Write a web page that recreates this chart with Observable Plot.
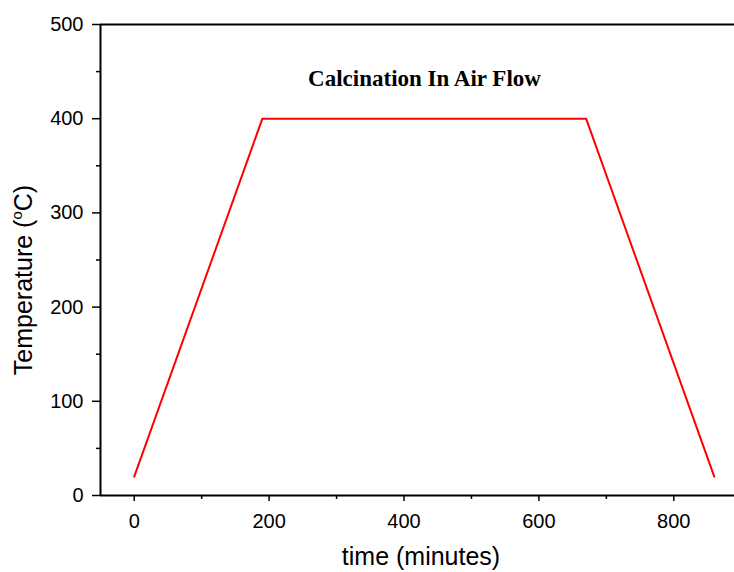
<!DOCTYPE html>
<html>
<head>
<meta charset="utf-8">
<script src="https://cdn.jsdelivr.net/npm/d3@7"></script>
<script src="https://cdn.jsdelivr.net/npm/@observablehq/plot@0.6"></script>
<style>
  body { margin: 0; background: #fff; }
  #chart svg { display: block; }
</style>
</head>
<body>
<div id="chart"></div>
<script>
const times = [0, 190, 670, 860];
const temps = [20, 400, 400, 20];
const xMajorTicks = [0, 200, 400, 600, 800];
const xMinorTicks = [100, 300, 500, 700];
const yMajorTicks = [0, 100, 200, 300, 400, 500];
const yMinorTicks = [50, 150, 250, 350, 450];
const title = "Calcination In Air Flow";
const xLabel = "time (minutes)";

const data = times.map((t, i) => ({time: t, temp: temps[i]}));

const plot = Plot.plot({
  width: 734,
  height: 572,
  marginLeft: 100,
  marginRight: 0,
  marginTop: 24,
  marginBottom: 77,
  style: {fontFamily: "Liberation Sans, Arial, sans-serif", background: "white", color: "black"},
  x: {domain: [-50, 890]},
  y: {domain: [0, 500]},
  marks: [
    Plot.axisX({ticks: xMajorTicks, tickSize: 6, tickPadding: 12, fontSize: 20, label: null, strokeWidth: 1.5}),
    Plot.axisX({ticks: xMinorTicks, tickSize: 4, text: null, label: null, strokeWidth: 1.5}),
    Plot.axisY({ticks: yMajorTicks, tickSize: 8, tickPadding: 9, fontSize: 20, label: null, strokeWidth: 1.5}),
    Plot.axisY({ticks: yMinorTicks, tickSize: 4, text: null, label: null, strokeWidth: 1.5}),
    Plot.ruleX([-50], {strokeWidth: 2}),
    Plot.ruleY([0], {strokeWidth: 2}),
    Plot.ruleY([500], {strokeWidth: 2}),
    Plot.line(data, {x: "time", y: "temp", stroke: "#ff0000", strokeWidth: 2}),
    Plot.text([title], {frameAnchor: "top", dx: 7, dy: 45, text: d => d, fontFamily: "Liberation Serif, Times New Roman, serif", fontWeight: "bold", fontSize: 23, fill: "black"})
  ]
});

document.getElementById("chart").appendChild(plot);

const svg = d3.select(plot);
svg.append("text")
  .attr("x", 421).attr("y", 565)
  .attr("text-anchor", "middle")
  .attr("font-family", "Liberation Sans, Arial, sans-serif")
  .attr("font-size", 25)
  .attr("fill", "black")
  .text(xLabel);

const yl = svg.append("text")
  .attr("transform", "translate(32,280) rotate(-90)")
  .attr("text-anchor", "middle")
  .attr("font-family", "Liberation Sans, Arial, sans-serif")
  .attr("font-size", 25)
  .attr("fill", "black");
yl.append("tspan").text("Temperature (");
yl.append("tspan").attr("font-size", 15).attr("dy", -10).text("o");
yl.append("tspan").attr("dy", 10).text("C)");
</script>
</body>
</html>
